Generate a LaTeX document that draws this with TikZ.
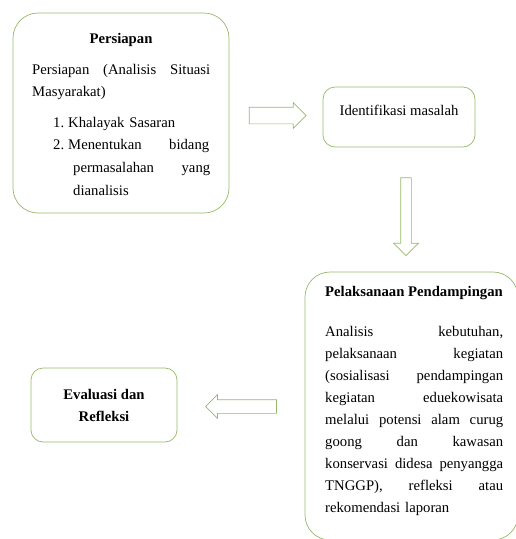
\documentclass[tikz,border=0pt]{standalone}
\usepackage{fontspec}
\setmainfont{Liberation Serif}
\usetikzlibrary{shapes.arrows, positioning, calc}

\definecolor{boxgreen}{RGB}{150,186,104}

% justified line of fixed width (gaps made with \hfill)
\newcommand{\jline}[2][178pt]{\leavevmode\hbox to #1{#2}}

\begin{document}
\begin{tikzpicture}[
    x=1pt, y=-1pt,
    box/.style={rectangle, draw=boxgreen, fill=white, line width=0.7pt,
                rounded corners=#1, inner sep=0pt},
    box/.default=12pt,
    txt/.style={inner sep=0pt, font=\fontsize{14.7pt}{22pt}\selectfont},
    ttl/.style={txt, font=\fontsize{14.7pt}{22pt}\selectfont\bfseries},
    blk/.style={single arrow, draw=boxgreen, fill=white, line width=0.7pt,
                inner sep=#1},
]

\useasboundingbox (0,0) rectangle (515,539);

% --- Persiapan ---
\node (persiapan) [box=25pt, minimum width=216pt, minimum height=200pt]
    at (121,113) {};
\node (persiapanTtl) [ttl, anchor=base] at (121,43) {Persiapan};
\node (persiapanTxt) [txt, text width=178pt, anchor=base west] at (32,74)
    {\jline{Persiapan \hfill (Analisis \hfill Situasi}\\
     Masyarakat)};
\node (persiapanList) [txt, text width=157pt, anchor=base west,
    font=\fontsize{14.7pt}{22.7pt}\selectfont] at (53,127)
    {\makebox[15pt][l]{1.}Khalayak Sasaran\\
     \makebox[15pt][l]{2.}\jline[141pt]{Menentukan \hfill bidang}\\
     \hspace*{20pt}\jline[137pt]{permasalahan \hfill yang}\\
     \hspace*{20pt}dianalisis};

% --- Identifikasi masalah ---
\node (ident) [box, minimum width=152pt, minimum height=60pt] at (399,117) {};
\node (identTxt) [txt, anchor=base] at (399,115) {Identifikasi masalah};

% --- Pelaksanaan Pendampingan ---
\node (pelaksanaan) [box=25pt, minimum width=213pt, minimum height=268pt]
    at (411.5,406) {};
\node (pelaksanaanTtl) [ttl, anchor=base west] at (325,296)
    {Pelaksanaan Pendampingan};
\node (pelaksanaanTxt) [txt, text width=178pt, anchor=base west] at (325,336)
    {\jline{Analisis \hfill kebutuhan,}\\
     \jline{pelaksanaan \hfill kegiatan}\\
     \jline{(sosialisasi \hfill pendampingan}\\
     \jline{kegiatan \hfill eduekowisata}\\
     \jline{melalui \hfill potensi \hfill alam \hfill curug}\\
     \jline{goong \hfill dan \hfill kawasan}\\
     \jline{konservasi \hfill didesa \hfill penyangga}\\
     \jline{TNGGP), \hfill refleksi \hfill atau}\\
     rekomendasi laporan};

% --- Evaluasi dan Refleksi ---
\node (evaluasi) [box, minimum width=146pt, minimum height=74pt,
    ttl, align=center] at (104,405)
    {Evaluasi dan\\Refleksi};

% --- block arrows ---
\node (arrA) [blk=8pt, single arrow head extend=4.5pt,
    minimum height=57pt] at (273.5,115.5) {};
\node (arrB) [blk=5pt, single arrow head extend=7pt,
    minimum height=78pt, shape border rotate=270] at (406,214) {};
\node (arrC) [blk=6.5pt, single arrow head extend=5pt,
    minimum height=71pt, shape border rotate=180] at (244.5,406.5) {};

\end{tikzpicture}
\end{document}
